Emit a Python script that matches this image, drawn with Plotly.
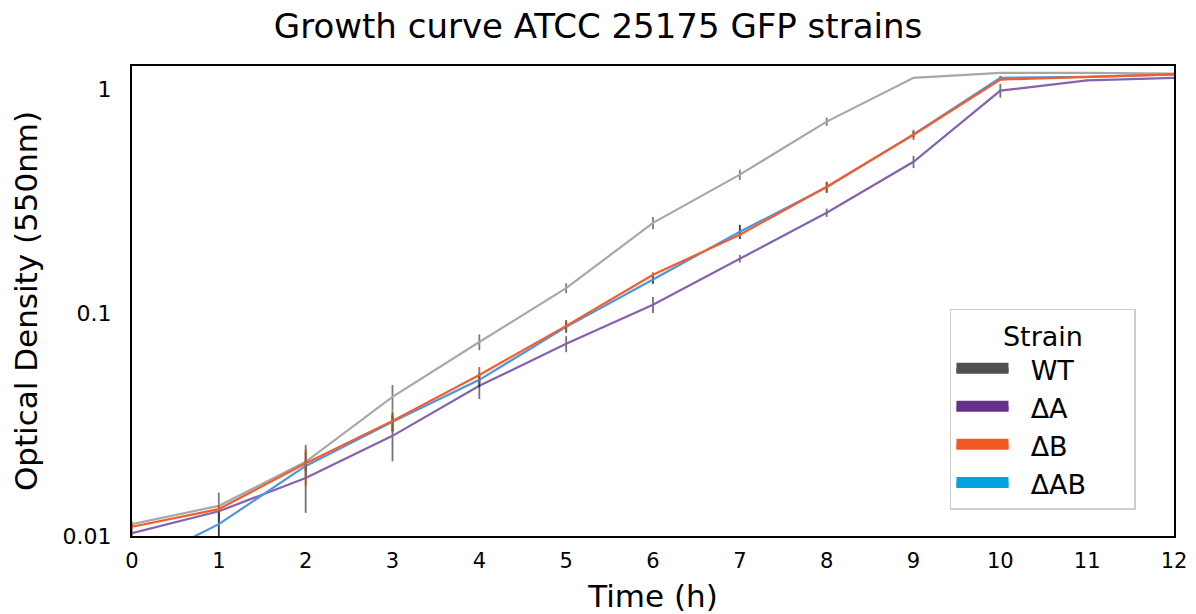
import plotly.graph_objects as go

time_h = [0, 1, 2, 3, 4, 5, 6, 7, 8, 9, 10, 11, 12]

strains = ["WT", "ΔA", "ΔB", "ΔAB"]

od_wt = [0.0113, 0.01365, 0.0215, 0.042, 0.074, 0.129, 0.253, 0.416, 0.719, 1.13, 1.19, 1.19, 1.18]
od_da = [0.0103, 0.0129, 0.0182, 0.0281, 0.0471, 0.0726, 0.1087, 0.175, 0.281, 0.475, 0.99, 1.10, 1.13]
od_db = [0.0110, 0.0132, 0.0212, 0.0328, 0.0527, 0.0874, 0.148, 0.224, 0.367, 0.628, 1.11, 1.14, 1.17]
od_dab = [0.0072, 0.0113, 0.0206, 0.0325, 0.0501, 0.0865, 0.141, 0.231, 0.365, 0.63, 1.13, 1.14, 1.17]

err_wt = [0.0003, 0.002, 0.003, 0.0055, 0.006, 0.0066, 0.016, 0.022, 0.03, 0.01, 0.01, 0.01, 0.01]
err_da = [0.0003, 0.0008, 0.0055, 0.0065, 0.006, 0.006, 0.009, 0.007, 0.012, 0.03, 0.07, 0.01, 0.01]
err_db = [0.0003, 0.0005, 0.0044, 0.0036, 0.0045, 0.0055, 0.004, 0.006, 0.02, 0.033, 0.01, 0.01, 0.01]
err_dab = [0.0003, 0.0016, 0.0010, 0.003, 0.0037, 0.005, 0.006, 0.017, 0.02, 0.02, 0.02, 0.01, 0.01]

series = [
    ("WT", od_wt, err_wt, "#a8a8a8", "rgba(110,110,110,0.9)"),
    ("ΔA", od_da, err_da, "#8562ad", "rgba(100,100,100,0.9)"),
    ("ΔAB", od_dab, err_dab, "#4f94e0", "rgba(25,45,80,0.95)"),
    ("ΔB", od_db, err_db, "#f45d2a", "rgba(170,85,30,0.9)"),
]

fig = go.Figure()

for name, y, e, lc, ec in series:
    fig.add_trace(go.Scatter(
        x=time_h, y=y, mode="lines", name=name, showlegend=False,
        line=dict(color=lc, width=2.2),
        error_y=dict(type="data", array=e, visible=True, color=ec, thickness=1.8, width=0),
    ))

legend_colors = {"WT": "#505050", "ΔA": "#65318f", "ΔB": "#f15a24", "ΔAB": "#00a3e0"}
PAD = "\u00a0"
for name in strains:
    fig.add_trace(go.Scatter(
        x=[None], y=[None], mode="lines", name=PAD * 2 + name + PAD * 5, showlegend=True,
        fill="toself", fillcolor=legend_colors[name],
        line=dict(color=legend_colors[name], width=14),
    ))

FONT = "DejaVu Sans"
fig.update_layout(
    width=1196, height=614,
    margin=dict(l=132, r=22, t=66, b=78),
    paper_bgcolor="white", plot_bgcolor="white",
    font=dict(family=FONT, color="black", size=22),
    title=dict(text="Growth curve ATCC 25175 GFP strains", x=0.5, xanchor="center",
               y=0.958, yanchor="middle", font=dict(size=34, family=FONT, color="black")),
    xaxis=dict(range=[0, 12], tickvals=time_h, ticks="", showgrid=False, zeroline=False,
               showline=True, linecolor="black", linewidth=2, mirror=True, automargin=False,
               tickfont=dict(size=21), ticklabelstandoff=5,
               title=dict(text="Time (h)", font=dict(size=31), standoff=18)),
    yaxis=dict(type="log", range=[-2, 0.106], tickvals=[0.01, 0.1, 1], ticktext=["0.01", "0.1", "1"],
               ticks="", showgrid=False, zeroline=False, automargin=False,
               showline=True, linecolor="black", linewidth=2, mirror=True,
               tickfont=dict(size=22), ticklabelstandoff=14,
               title=dict(text="Optical Density (550nm)", font=dict(size=31), standoff=16)),
    legend=dict(x=0.785, y=0.483, xanchor="left", yanchor="top",
                bgcolor="white", bordercolor="#cccccc", borderwidth=1.5,
                font=dict(size=27, family=FONT), itemwidth=52,
                title=dict(text="Strain", side="top center", font=dict(size=27, family=FONT)),
                traceorder="normal", tracegroupgap=0),
)

fig.write_html("out.html", config={"displayModeBar": False},
               post_script="document.body.style.margin='0';")
